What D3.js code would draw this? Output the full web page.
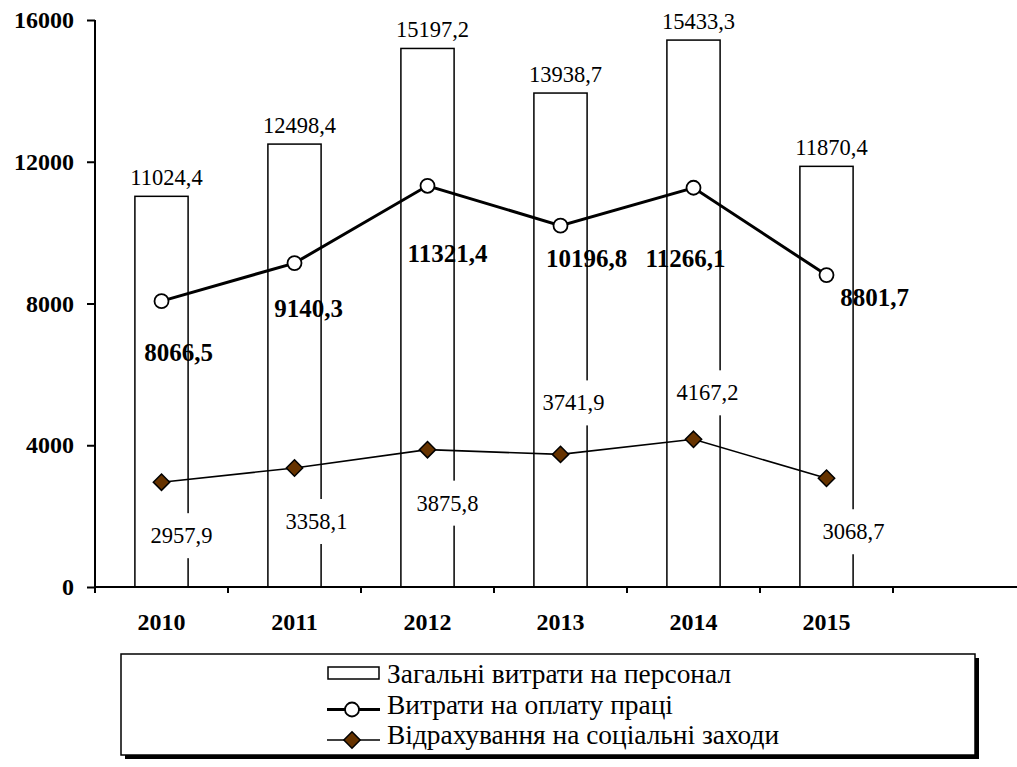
<!DOCTYPE html>
<html>
<head>
<meta charset="utf-8">
<script src="https://cdn.jsdelivr.net/npm/d3@7"></script>
<style>
  body { margin: 0; background: #fff; }
  svg text { font-family: "Liberation Serif", "Times New Roman", serif; }
</style>
</head>
<body>
<svg id="chart"></svg>
<script>
const years = ["2010", "2011", "2012", "2013", "2014", "2015", ""];
const totalCosts = [11024.4, 12498.4, 15197.2, 13938.7, 15433.3, 11870.4];
const wageCosts = [8066.5, 9140.3, 11321.4, 10196.8, 11266.1, 8801.7];
const socialCosts = [2957.9, 3358.1, 3875.8, 3741.9, 4167.2, 3068.7];
const yTicks = [0, 4000, 8000, 12000, 16000];
const legendNames = ["Загальні витрати на персонал", "Витрати на оплату праці", "Відрахування на соціальні заходи"];

// label placement (offset from the point, px) -- set by hand like in the original
const wageLabelPos = [[17, 60], [14, 54], [20, 76], [26, 41], [-8, 79], [48, 31]];
const socialLabelPos = [[20, 61], [22, 61], [20, 61], [13, -44], [14, -39], [27, 61]];

const SIZE = { width: 1017, height: 767 };
const fmt = v => String(v).replace(".", ",");

const svg = d3.select("#chart").attr("width", SIZE.width).attr("height", SIZE.height);

const x = d3.scaleBand().domain(years).range([95, 95 + 133 * years.length]);
const y = d3.scaleLinear().domain([0, 16000]).range([587, 20]);
const cx = d => x(d) + x.bandwidth() / 2;
const barW = x.bandwidth() * 0.4;
const data = years.slice(0, 6);

// bars
svg.append("g").selectAll("rect").data(data).enter().append("rect")
  .attr("x", d => cx(d) - barW / 2)
  .attr("y", (d, i) => y(totalCosts[i]))
  .attr("width", barW)
  .attr("height", (d, i) => y(0) - y(totalCosts[i]))
  .attr("fill", "#fff")
  .attr("stroke", "#000")
  .attr("stroke-width", 1.5);

// axes
const yAxis = svg.append("g").attr("transform", "translate(95,0)")
  .call(d3.axisLeft(y).tickValues(yTicks).tickSize(8).tickPadding(13).tickFormat(d3.format("d")));
yAxis.select(".domain").attr("d", `M0,${y(16000)}V${y(0)}`).attr("stroke-width", 2);
yAxis.selectAll(".tick line").attr("stroke-width", 2);
yAxis.selectAll("text").attr("font-size", 24).attr("font-weight", "bold").attr("fill", "#000");

const xAxis = svg.append("g").attr("transform", `translate(0,${y(0)})`)
  .call(d3.axisBottom(x).tickSize(0).tickPadding(26));
xAxis.select(".domain").attr("d", `M95,0H${x.range()[1]}`).attr("stroke-width", 2);
xAxis.selectAll("text").attr("font-size", 24).attr("font-weight", "bold").attr("fill", "#000");
xAxis.selectAll(".bound").data(years).enter().append("line")
  .attr("x1", d => x(d)).attr("x2", d => x(d))
  .attr("y1", 0).attr("y2", 6)
  .attr("stroke", "#000").attr("stroke-width", 2);

// lines
const wageLine = d3.line().x(d => cx(d)).y((d, i) => y(wageCosts[i]));
const socialLine = d3.line().x(d => cx(d)).y((d, i) => y(socialCosts[i]));
svg.append("path").attr("d", socialLine(data)).attr("fill", "none")
  .attr("stroke", "#000").attr("stroke-width", 1.6);
svg.append("path").attr("d", wageLine(data)).attr("fill", "none")
  .attr("stroke", "#000").attr("stroke-width", 3);

const diamond = d3.symbol().type(d3.symbolDiamond2).size(170);
svg.append("g").selectAll("path").data(data).enter().append("path")
  .attr("d", diamond)
  .attr("transform", (d, i) => `translate(${cx(d)},${y(socialCosts[i])})`)
  .attr("fill", "#663300").attr("stroke", "#000").attr("stroke-width", 1.5);

svg.append("g").selectAll("circle").data(data).enter().append("circle")
  .attr("cx", d => cx(d)).attr("cy", (d, i) => y(wageCosts[i]))
  .attr("r", 7).attr("fill", "#fff").attr("stroke", "#000").attr("stroke-width", 1.8);

// labels
svg.append("g").selectAll("text").data(data).enter().append("text")
  .attr("x", d => cx(d) + 5).attr("y", (d, i) => y(totalCosts[i]) - 11)
  .attr("text-anchor", "middle").attr("font-size", 22.5)
  .text((d, i) => fmt(totalCosts[i]));

svg.append("g").selectAll("text").data(data).enter().append("text")
  .attr("x", (d, i) => cx(d) + wageLabelPos[i][0])
  .attr("y", (d, i) => y(wageCosts[i]) + wageLabelPos[i][1])
  .attr("text-anchor", "middle").attr("font-size", 25).attr("font-weight", "bold")
  .text((d, i) => fmt(wageCosts[i]));

const socialG = svg.append("g");
const socialText = socialG.selectAll("text").data(data).enter().append("text")
  .attr("x", (d, i) => cx(d) + socialLabelPos[i][0])
  .attr("y", (d, i) => y(socialCosts[i]) + socialLabelPos[i][1])
  .attr("text-anchor", "middle").attr("font-size", 22.5)
  .text((d, i) => fmt(socialCosts[i]));
socialText.each(function(){
  const b = this.getBBox();
  const t = d3.select(this);
  socialG.insert("rect", "text")
    .attr("x", b.x - 4).attr("y", +t.attr("y") - 30)
    .attr("width", b.width + 8).attr("height", 45)
    .attr("fill", "#fff");
});

// legend
const lg = svg.append("g");
lg.append("rect").attr("x", 125).attr("y", 658).attr("width", 854).attr("height", 101).attr("fill", "#000");
lg.append("rect").attr("x", 121).attr("y", 654).attr("width", 854).attr("height", 101)
  .attr("fill", "#fff").attr("stroke", "#000").attr("stroke-width", 1.5);
const rowY = [683, 713.5, 744];
lg.append("rect").attr("x", 328).attr("y", rowY[0] - 16).attr("width", 51).attr("height", 12)
  .attr("fill", "#fff").attr("stroke", "#000").attr("stroke-width", 1.5);
lg.append("line").attr("x1", 327).attr("x2", 380).attr("y1", rowY[1] - 4).attr("y2", rowY[1] - 4)
  .attr("stroke", "#000").attr("stroke-width", 3);
lg.append("circle").attr("cx", 352).attr("cy", rowY[1] - 4).attr("r", 7)
  .attr("fill", "#fff").attr("stroke", "#000").attr("stroke-width", 1.8);
lg.append("line").attr("x1", 327).attr("x2", 380).attr("y1", rowY[2] - 4).attr("y2", rowY[2] - 4)
  .attr("stroke", "#000").attr("stroke-width", 1.6);
lg.append("path").attr("d", diamond).attr("transform", `translate(352,${rowY[2] - 4})`)
  .attr("fill", "#663300").attr("stroke", "#000").attr("stroke-width", 1.5);
lg.selectAll("text.name").data(legendNames).enter().append("text")
  .attr("class", "name").attr("x", 387).attr("y", (d, i) => rowY[i])
  .attr("font-size", 27.4).text(d => d);
</script>
</body>
</html>
